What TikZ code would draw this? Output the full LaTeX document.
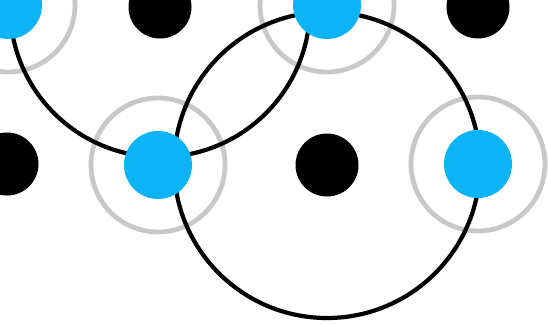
\documentclass[tikz,border=0pt]{standalone}
\begin{document}
\begin{tikzpicture}[x=1pt,y=-1pt,
  bluedot/.style={circle,fill=dotblue,inner sep=0pt,minimum size=68pt},
  blackdot/.style={circle,fill=black,inner sep=0pt,minimum size=63pt},
  ring/.style={draw=ringgray,line width=4.8pt},
  arc/.style={draw=black,line width=4.2pt}]
\definecolor{dotblue}{RGB}{12,180,245}
\definecolor{ringgray}{RGB}{200,200,200}
\useasboundingbox (0,0) rectangle (548,325);
\clip (0,0) rectangle (548,325);
% positions
\coordinate (pA) at (8,5);
\coordinate (pB) at (158,165);
\coordinate (pC) at (327,5);
\coordinate (pD) at (478,164);
\coordinate (pK1) at (160,7);
\coordinate (pK2) at (478,7);
\coordinate (pK3) at (7,164);
\coordinate (pK4) at (327,165);
% rings
\foreach \p in {pA,pB,pC,pD} \draw[ring] (\p) circle[radius=67];
% black circles
\draw[arc] (pK1) circle[radius=150];
\draw[arc] (pK4) circle[radius=153];
% dots
\node[bluedot] (A) at (pA) {};
\node[bluedot] (B) at (pB) {};
\node[bluedot] (C) at (pC) {};
\node[bluedot] (D) at (pD) {};
\node[blackdot] (K1) at (pK1) {};
\node[blackdot] (K2) at (pK2) {};
\node[blackdot] (K3) at (pK3) {};
\node[blackdot] (K4) at (pK4) {};
\end{tikzpicture}
\end{document}
